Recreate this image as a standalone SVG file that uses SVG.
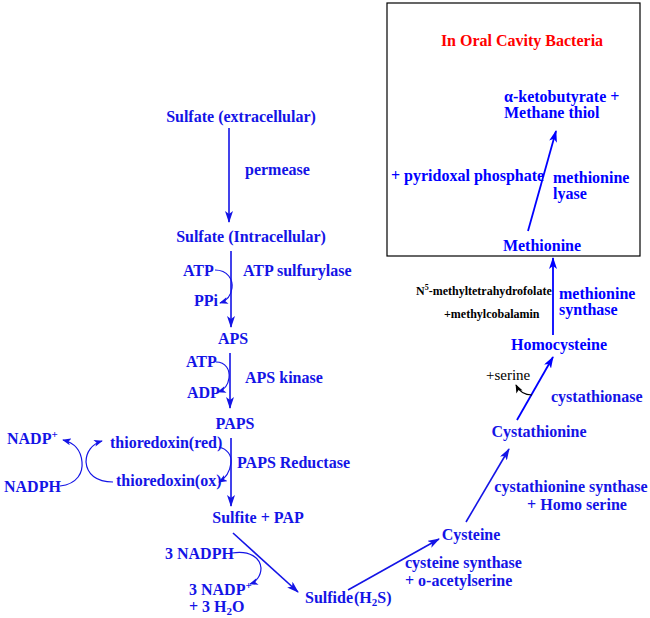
<svg xmlns="http://www.w3.org/2000/svg" width="650" height="618" viewBox="0 0 650 618">
<defs>
<marker id="ah" viewBox="0 0 12 8" refX="11" refY="4" markerWidth="12" markerHeight="8" markerUnits="userSpaceOnUse" orient="auto">
<path d="M0,0 L12,4 L0,8 L3,4 Z" fill="#1414e6"/>
</marker>
<marker id="ahs" viewBox="0 0 10 8" refX="9" refY="4" markerWidth="9" markerHeight="7" markerUnits="userSpaceOnUse" orient="auto">
<path d="M0,0 L10,4 L0,8 L2.5,4 Z" fill="#1414e6"/>
</marker>
<marker id="ahk" viewBox="0 0 10 8" refX="9" refY="4" markerWidth="9" markerHeight="7" markerUnits="userSpaceOnUse" orient="auto">
<path d="M0,0 L10,4 L0,8 L2.5,4 Z" fill="#000"/>
</marker>
<marker id="ahb" viewBox="0 0 12 8" refX="11" refY="4" markerWidth="12" markerHeight="8" markerUnits="userSpaceOnUse" orient="auto">
<path d="M0,0 L12,4 L0,8 L3,4 Z" fill="#0000ff"/>
</marker>
</defs>
<style>
text{font-family:"Liberation Serif","Times New Roman",serif;font-weight:bold;font-size:16px;fill:#1414e6}
.b{fill:#0000ff}
.k{fill:#000;font-size:12px}
.kn{fill:#000;font-weight:normal;font-size:15px}
.r{fill:#ff0000}
.ln{stroke:#1414e6;stroke-width:1.6;fill:none}
.lb{stroke:#0000ff;stroke-width:1.8;fill:none}
.cv{stroke:#1414e6;stroke-width:1.2;fill:none}
</style>

<rect x="387" y="3" width="253" height="253" fill="none" stroke="#000" stroke-width="1.2"/>

<g id="connectors">
<line class="ln" x1="229" y1="128" x2="229" y2="222" marker-end="url(#ah)"/>
<line class="ln" x1="231" y1="251" x2="231" y2="327" marker-end="url(#ah)"/>
<line class="ln" x1="230" y1="353" x2="230" y2="408" marker-end="url(#ah)"/>
<line class="ln" x1="231" y1="438" x2="231" y2="506" marker-end="url(#ah)"/>
<line class="ln" x1="233" y1="533" x2="298" y2="592" marker-end="url(#ah)"/>
<line class="ln" x1="348" y1="590" x2="439" y2="539" marker-end="url(#ah)"/>
<line class="ln" x1="466" y1="522" x2="509" y2="449" marker-end="url(#ah)"/>
<line class="lb" x1="517" y1="420" x2="553" y2="357" marker-end="url(#ahb)"/>
<line class="lb" x1="553" y1="335" x2="553" y2="258" marker-end="url(#ahb)"/>
<line class="lb" x1="528" y1="231" x2="556" y2="131" marker-end="url(#ahb)"/>
<path class="cv" d="M215,270 C228,270 233,280 232,288 C231,296 226,301 220,303" marker-end="url(#ahs)"/>
<path class="cv" d="M216,362 C226,362 230,370 229,378 C228,386 224,390 218,392" marker-end="url(#ahs)"/>
<path class="cv" d="M219,447 C227,449 232,455 231,463 C230,471 226,478 219,482" marker-end="url(#ahs)"/>
<path class="cv" d="M60,486 C78,484 83,472 82,462 C81,450 75,443 63,440" marker-end="url(#ahs)"/>
<path class="cv" d="M113,482 C96,482 87,474 86,462 C86,452 92,444 102,441" marker-end="url(#ahs)"/>
<path class="cv" d="M232,553 C250,550 260,558 261,568 C261,576 256,582 250,584" marker-end="url(#ahs)"/>
<path d="M532,395 C524,395 519,391 516,385" stroke="#000" stroke-width="1.2" fill="none" marker-end="url(#ahk)"/>
</g>

<g id="title"><text class="r" x="522" y="46" text-anchor="middle">In Oral Cavity Bacteria</text></g>
<g id="sulfate-ext"><text x="241" y="122" text-anchor="middle">Sulfate (extracellular)</text></g>
<g id="permease"><text x="245" y="175">permease</text></g>
<g id="sulfate-int"><text x="251" y="242" text-anchor="middle">Sulfate (Intracellular)</text></g>
<g id="atp1"><text x="183" y="276">ATP</text><text x="194" y="306">PPi</text></g>
<g id="atp-sulfurylase"><text x="243" y="276">ATP sulfurylase</text></g>
<g id="aps"><text x="233" y="344" text-anchor="middle">APS</text></g>
<g id="atp2"><text x="186" y="367">ATP</text><text x="187" y="398">ADP</text></g>
<g id="aps-kinase"><text x="245" y="383">APS kinase</text></g>
<g id="paps"><text x="235" y="429" text-anchor="middle">PAPS</text></g>
<g id="paps-reductase"><text x="237" y="468">PAPS Reductase</text></g>
<g id="thioredoxin"><text x="110" y="448">thioredoxin(red)</text><text x="116" y="486">thioredoxin(ox)</text></g>
<g id="nadp"><text x="7" y="444">NADP<tspan font-size="11" dy="-6">+</tspan></text><text x="4" y="492">NADPH</text></g>
<g id="sulfite"><text x="258" y="523" text-anchor="middle">Sulfite + PAP</text></g>
<g id="nadph3"><text x="165" y="559">3 NADPH</text><text x="189" y="595">3 NADP<tspan font-size="11" dy="-6">+</tspan></text><text x="189" y="612">+ 3 H<tspan font-size="11" dy="3">2</tspan><tspan dy="-3">O</tspan></text></g>
<g id="sulfide"><text x="305" y="603">Sulfide<tspan dx="1">(H</tspan><tspan font-size="11" dy="3">2</tspan><tspan dy="-3">S)</tspan></text></g>
<g id="cysteine"><text x="471" y="540" text-anchor="middle">Cysteine</text></g>
<g id="cysteine-synthase"><text x="405" y="568">cysteine synthase</text><text x="405" y="586">+ o-acetylserine</text></g>
<g id="cystathionine-synthase"><text x="571" y="492" text-anchor="middle">cystathionine synthase</text><text x="577" y="510" text-anchor="middle">+ Homo serine</text></g>
<g id="cystathionine"><text x="539" y="437" text-anchor="middle">Cystathionine</text></g>
<g id="serine"><text class="kn" x="486" y="380">+serine</text></g>
<g id="cystathionase"><text x="551" y="402">cystathionase</text></g>
<g id="homocysteine"><text class="b" x="559" y="350" text-anchor="middle">Homocysteine</text></g>
<g id="cofactors"><text class="k" x="416" y="295">N<tspan font-size="8" dy="-5">5</tspan><tspan dy="5">-methyltetrahydrofolate</tspan></text><text class="k" x="444" y="318">+methylcobalamin</text></g>
<g id="methionine-synthase"><text class="b" x="559" y="299">methionine</text><text class="b" x="559" y="315">synthase</text></g>
<g id="methionine"><text class="b" x="542" y="251" text-anchor="middle">Methionine</text></g>
<g id="pyridoxal"><text class="b" x="391" y="181">+ pyridoxal phosphate</text></g>
<g id="methionine-lyase"><text class="b" x="553" y="183">methionine</text><text class="b" x="553" y="199">lyase</text></g>
<g id="products"><text class="b" x="504" y="102">α-ketobutyrate +</text><text class="b" x="504" y="118">Methane thiol</text></g>
</svg>
